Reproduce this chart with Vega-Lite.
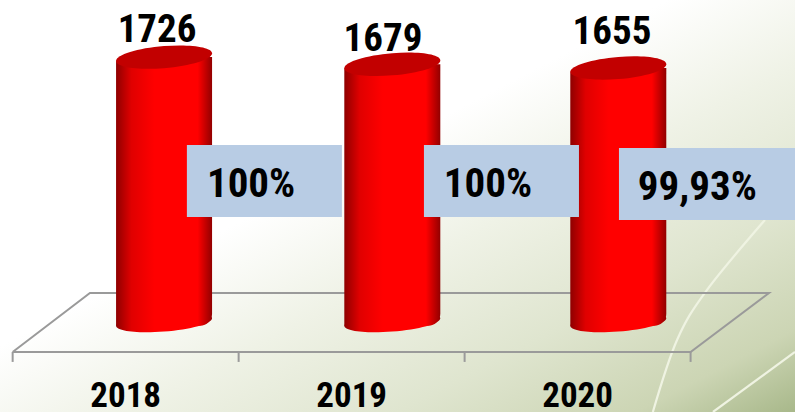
{
"$schema":"https://vega.github.io/schema/vega-lite/v6.json",
"autosize":{"type":"none"},
"width":795,"height":412,"padding":{"left":0,"right":0,"top":0,"bottom":0},
"background":"white",
"config":{"padding":{"left":0,"right":0,"top":0,"bottom":0},"view":{"stroke":null},"axis":{"grid":false}},
"datasets":{
"bars":[{"year":2018,"xc":2018.17,"value":1726},{"year":2019,"xc":2019.18,"value":1679},{"year":2020,"xc":2020.18,"value":1655}],
"floor":[{"x":2017.5,"y":-195,"o":0},{"x":2017.842,"y":189,"o":1},{"x":2020.847,"y":189,"o":2},{"x":2020.5,"y":-195,"o":3},{"x":2017.5,"y":-195,"o":4}],
"ticks":[{"x":2017.5},{"x":2018.5},{"x":2019.5},{"x":2020.5}],
"cats":[{"x":2018,"label":"2018"},{"x":2019,"label":"2019"},{"x":2020,"label":"2020"}],
"valueLabels":[{"x":2018.139,"y":1824,"label":"1726"},{"x":2019.139,"y":1766,"label":"1679"},{"x":2020.152,"y":1811,"label":"1655"}],
"boxes":[{"x":2018.271,"x2":2018.957,"y":1153,"y2":684},{"x":2019.32,"x2":2020.006,"y":1153,"y2":684},{"x":2020.183,"x2":2020.962,"y":1134,"y2":665}],
"boxLabels":[{"x":2018.555,"y":814,"label":"100%"},{"x":2019.603,"y":814,"label":"100%"},{"x":2020.53,"y":795,"label":"99,93%"}],
"curves":[{"c":"a","x":2020.333,"y":-586},{"c":"a","x":2020.44,"y":-117},{"c":"a","x":2020.572,"y":208},{"c":"a","x":2020.829,"y":665},{"c":"b","x":2020.599,"y":-586},{"c":"b","x":2020.962,"y":-195}]
},
"layer":[
{"data":{"values":[{"x":2017.444,"x2":2020.962,"y":-586.3,"y2":2098}]},
 "mark":{"type":"rect","color":{"gradient":"linear","x1":0,"y1":0,"x2":1,"y2":1,"stops":[{"offset":0,"color":"#ffffff"},{"offset":0.42,"color":"#ffffff"},{"offset":0.58,"color":"#eff2e6"},{"offset":0.75,"color":"#dfe5cf"},{"offset":0.9,"color":"#ccd5b4"},{"offset":1,"color":"#a8b88a"}]}},
 "encoding":{
  "x":{"field":"x","type":"quantitative","axis":null,"scale":{"domain":[2017.444,2020.962],"nice":false,"zero":false,"padding":0}},
  "x2":{"field":"x2"},
  "y":{"field":"y","type":"quantitative","axis":null,"scale":{"domain":[-586.3,2098],"nice":false,"zero":false,"padding":0}},
  "y2":{"field":"y2"}}},
{"data":{"name":"curves"},
 "mark":{"type":"line","interpolate":"cardinal","color":"#eff3e2","strokeWidth":2.2},
 "encoding":{"x":{"field":"x","type":"quantitative"},"y":{"field":"y","type":"quantitative"},"detail":{"field":"c"}}},
{"data":{"name":"floor"},
 "mark":{"type":"line","color":"#9a9a9a","strokeWidth":2},
 "encoding":{"x":{"field":"x","type":"quantitative"},"y":{"field":"y","type":"quantitative"},"order":{"field":"o"}}},
{"data":{"name":"ticks"},
 "mark":{"type":"rule","color":"#9a9a9a","strokeWidth":2},
 "encoding":{"x":{"field":"x","type":"quantitative"},"y":{"datum":-195},"y2":{"datum":-260}}},
{"data":{"name":"bars"},
 "mark":{"type":"point","filled":true,"opacity":1,"size":36864,"shape":"M0.5,-0.04C0.5,0.0152,0.276,0.0779,0,0.1C-0.276,0.1221,-0.5,0.0952,-0.5,0.04C-0.5,-0.0152,-0.276,-0.0779,0,-0.1C0.276,-0.1221,0.5,-0.0952,0.5,-0.04Z",
  "color":{"gradient":"linear","x1":0,"y1":0,"x2":1,"y2":0,"stops":[{"offset":0,"color":"#8f0000"},{"offset":0.16,"color":"#e00000"},{"offset":0.4,"color":"#ff0000"},{"offset":0.85,"color":"#ff0000"},{"offset":1,"color":"#920000"}]}},
 "encoding":{"x":{"field":"xc","type":"quantitative"},"y":{"datum":0}}},
{"data":{"name":"bars"},
 "mark":{"type":"bar","orient":"vertical","width":96,"cornerRadiusTopLeft":6,"cornerRadiusBottomRight":12,
  "color":{"gradient":"linear","x1":0,"y1":0,"x2":1,"y2":0,"stops":[{"offset":0,"color":"#8f0000"},{"offset":0.16,"color":"#e00000"},{"offset":0.4,"color":"#ff0000"},{"offset":0.85,"color":"#ff0000"},{"offset":1,"color":"#920000"}]}},
 "encoding":{"x":{"field":"xc","type":"quantitative"},"y":{"field":"value","type":"quantitative"},"y2":{"datum":-25}}},
{"data":{"name":"bars"},
 "mark":{"type":"point","filled":true,"opacity":1,"size":36864,"color":"#c20000","shape":"M0.5,-0.04C0.5,0.0235,0.276,0.0929,0,0.115C-0.276,0.1371,-0.5,0.1035,-0.5,0.04C-0.5,-0.0235,-0.276,-0.0929,0,-0.115C0.276,-0.1371,0.5,-0.1035,0.5,-0.04Z"},
 "encoding":{"x":{"field":"xc","type":"quantitative"},"y":{"field":"value","type":"quantitative"}}},
{"data":{"name":"boxes"},
 "mark":{"type":"rect","color":"#b8cce4"},
 "encoding":{"x":{"field":"x","type":"quantitative"},"x2":{"field":"x2"},"y":{"field":"y","type":"quantitative"},"y2":{"field":"y2"}}},
{"data":{"name":"valueLabels"},
 "mark":{"type":"text","font":"Roboto Condensed, Liberation Sans","fontWeight":"bold","fontSize":39,"color":"#000000","align":"center","baseline":"alphabetic"},
 "encoding":{"x":{"field":"x","type":"quantitative"},"y":{"field":"y","type":"quantitative"},"text":{"field":"label"}}},
{"data":{"name":"boxLabels"},
 "mark":{"type":"text","font":"Roboto Condensed, Liberation Sans","fontWeight":"bold","fontSize":41,"color":"#000000","align":"center","baseline":"alphabetic"},
 "encoding":{"x":{"field":"x","type":"quantitative"},"y":{"field":"y","type":"quantitative"},"text":{"field":"label"}}},
{"data":{"name":"cats"},
 "mark":{"type":"text","font":"Roboto Condensed, Liberation Sans","fontWeight":"bold","fontSize":35,"color":"#000000","align":"center","baseline":"alphabetic"},
 "encoding":{"x":{"field":"x","type":"quantitative"},"y":{"datum":-555},"text":{"field":"label"}}}
]
}
